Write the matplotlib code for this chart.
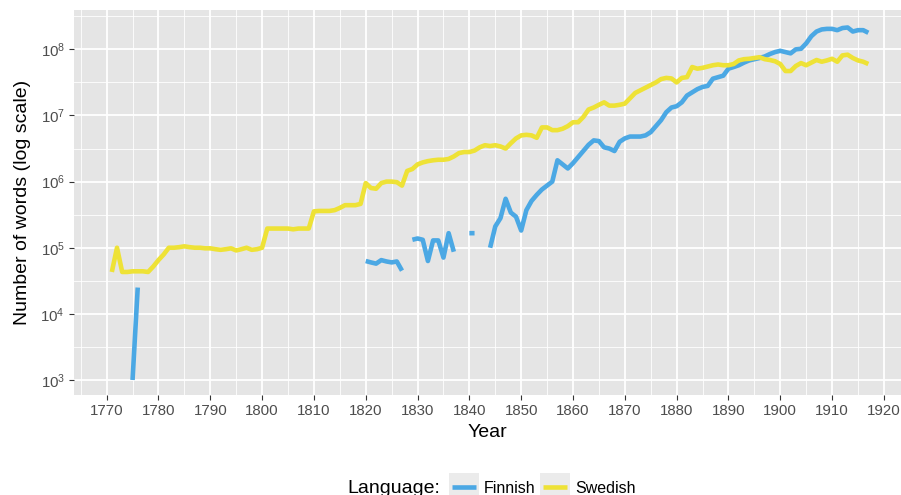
import numpy as np
import matplotlib
matplotlib.use('Agg')
import matplotlib.pyplot as plt
from matplotlib.ticker import FixedLocator, LogFormatterSciNotation, MultipleLocator
from matplotlib.patches import Rectangle
from matplotlib.lines import Line2D

plt.rcParams['font.family'] = ['Liberation Sans', 'DejaVu Sans']
plt.rcParams['mathtext.fontset'] = 'custom'
plt.rcParams['mathtext.rm'] = 'Liberation Sans'
plt.rcParams['mathtext.it'] = 'Liberation Sans:italic'
plt.rcParams['mathtext.bf'] = 'Liberation Sans:bold'

nan = np.nan

# Swedish, one value per year 1771-1917
swedish_years = np.arange(1771, 1918)
swedish = [
    4.3e4, 1.0e5, 4.3e4, 4.3e4, 4.4e4, 4.4e4, 4.4e4, 4.3e4, 5.2e4, 6.5e4,
    7.9e4, 1.0e5, 1.0e5, 1.02e5, 1.05e5, 1.02e5, 1.0e5, 1.0e5, 9.8e4, 9.8e4,
    9.5e4, 9.3e4, 9.5e4, 9.8e4, 9.1e4, 9.5e4, 1.0e5, 9.3e4, 9.5e4, 1.0e5,
    1.95e5, 1.95e5, 1.95e5, 1.95e5, 1.95e5, 1.9e5, 1.95e5, 1.95e5, 1.95e5, 3.55e5,
    3.6e5, 3.6e5, 3.6e5, 3.7e5, 4.0e5, 4.4e5, 4.4e5, 4.4e5, 4.6e5, 9.5e5,
    8.0e5, 7.8e5, 9.5e5, 1.0e6, 1.0e6, 9.8e5, 8.7e5, 1.45e6, 1.55e6, 1.82e6,
    1.95e6, 2.04e6, 2.1e6, 2.14e6, 2.14e6, 2.2e6, 2.4e6, 2.7e6, 2.8e6, 2.8e6,
    2.95e6, 3.3e6, 3.55e6, 3.45e6, 3.55e6, 3.4e6, 3.16e6, 3.8e6, 4.5e6, 5.0e6,
    5.1e6, 5.0e6, 4.6e6, 6.6e6, 6.6e6, 6.0e6, 6.0e6, 6.3e6, 6.9e6, 7.9e6,
    7.9e6, 9.5e6, 1.23e7, 1.32e7, 1.45e7, 1.58e7, 1.41e7, 1.41e7, 1.45e7, 1.51e7,
    1.82e7, 2.19e7, 2.4e7, 2.63e7, 2.88e7, 3.16e7, 3.55e7, 3.7e7, 3.63e7, 3.16e7,
    3.7e7, 3.8e7, 5.4e7, 5.1e7, 5.25e7, 5.5e7, 5.75e7, 5.9e7, 5.75e7, 5.75e7,
    6.0e7, 6.8e7, 7.1e7, 7.2e7, 7.4e7, 7.6e7, 7.1e7, 6.9e7, 6.6e7, 6.0e7,
    4.7e7, 4.7e7, 5.6e7, 6.2e7, 5.75e7, 6.3e7, 6.9e7, 6.5e7, 6.8e7, 7.2e7,
    6.5e7, 8.1e7, 8.3e7, 7.4e7, 6.8e7, 6.5e7, 6.0e7,
]

# Finnish, one value per year 1775-1917, nan = missing year
finnish_years = np.arange(1775, 1918)
finnish = (
    [1.0e3, 2.5e4]
    + [nan] * 43
    + [6.3e4, 6.0e4, 5.75e4, 6.5e4, 6.2e4, 6.0e4, 6.2e4, 4.5e4]            # 1820-1827
    + [nan]
    + [1.32e5, 1.38e5, 1.32e5, 6.3e4, 1.29e5, 1.29e5, 7.1e4, 1.66e5, 8.7e4]  # 1829-1837
    + [nan, nan]
    + [1.66e5, 1.66e5]                                                      # 1840-1841
    + [nan, nan]
    + [1.0e5, 2.1e5, 2.8e5, 5.5e5, 3.4e5, 2.95e5, 1.82e5,                   # 1844-1850
       3.7e5, 5.1e5, 6.3e5, 7.6e5, 8.7e5, 1.0e6, 2.1e6, 1.82e6, 1.58e6, 1.9e6,
       2.35e6, 2.9e6, 3.6e6, 4.2e6, 4.1e6, 3.3e6, 3.16e6, 2.9e6, 4.0e6, 4.5e6,
       4.8e6, 4.8e6, 4.8e6, 5.0e6, 5.6e6, 6.9e6, 8.5e6, 1.12e7, 1.32e7, 1.38e7,
       1.58e7, 2.0e7, 2.24e7, 2.5e7, 2.7e7, 2.8e7, 3.6e7, 3.8e7, 4.0e7, 5.1e7,
       5.4e7, 5.75e7, 6.3e7, 6.8e7, 7.1e7, 7.4e7, 7.8e7, 8.5e7, 9.1e7, 9.5e7,
       9.1e7, 8.7e7, 1.0e8, 1.02e8, 1.23e8, 1.58e8, 1.86e8, 2.0e8, 2.04e8, 2.04e8,
       1.95e8, 2.1e8, 2.14e8, 1.86e8, 1.95e8, 1.95e8, 1.78e8]
)

languages = ['Finnish', 'Swedish']
colors = {'Finnish': '#4BA8E4', 'Swedish': '#EEE236'}

W, H = 901, 495
fig = plt.figure(figsize=(W / 100, H / 100), dpi=100)
# panel runs off the right edge, like the cropped original
ax = fig.add_axes([74 / W, (H - 395) / H, 827 / W, 385 / H])
ax.set_facecolor('#E5E5E5')
for s in ax.spines.values():
    s.set_visible(False)

lw = 3.3
ax.plot(finnish_years, finnish, color=colors['Finnish'], lw=lw,
        solid_capstyle='butt', solid_joinstyle='round')
ax.plot(swedish_years, swedish, color=colors['Swedish'], lw=lw,
        solid_capstyle='butt', solid_joinstyle='round')

ax.set_yscale('log')
ax.set_xlim(1763.7, 1923.3)
ax.set_ylim(10 ** 2.773, 10 ** 8.595)

ax.xaxis.set_major_locator(MultipleLocator(10))
ax.xaxis.set_minor_locator(MultipleLocator(5))
ax.yaxis.set_major_locator(FixedLocator([10.0 ** k for k in range(3, 9)]))
ax.yaxis.set_minor_locator(FixedLocator([10.0 ** (k + 0.5) for k in range(2, 9)]))
ax.yaxis.set_major_formatter(LogFormatterSciNotation())
ax.yaxis.set_minor_formatter(plt.NullFormatter())

ax.set_axisbelow(True)
ax.grid(which='major', color='white', lw=1.3)
ax.grid(which='minor', color='white', lw=0.6)
ax.tick_params(which='major', length=3.3, width=0.8, color='#333333',
               labelcolor='#4D4D4D', labelsize=10.8, pad=3.3)
ax.tick_params(which='minor', length=0)

ax.set_xlabel('Year', fontsize=14, labelpad=4.5)
ax.set_ylabel('Number of words (log scale)', fontsize=14, labelpad=7)

# legend at the bottom, ggplot style
fig.text(347 / W, (H - 493) / H, 'Language:', fontsize=14, va='baseline', ha='left')
key_x = {'Finnish': 449, 'Swedish': 540}
for lang in languages:
    x0 = key_x[lang]
    fig.patches.append(Rectangle((x0 / W, (H - 502) / H), 30 / W, 29 / H,
                                 transform=fig.transFigure, facecolor='#EBEBEB',
                                 edgecolor='none'))
    fig.lines.append(Line2D([(x0 + 3) / W, (x0 + 27) / W], [(H - 487) / H] * 2,
                            transform=fig.transFigure, color=colors[lang], lw=lw,
                            solid_capstyle='butt'))
    fig.text((x0 + 35) / W, (H - 493) / H, lang, fontsize=11.5, va='baseline', ha='left')

fig.savefig('out.png', dpi=100)
